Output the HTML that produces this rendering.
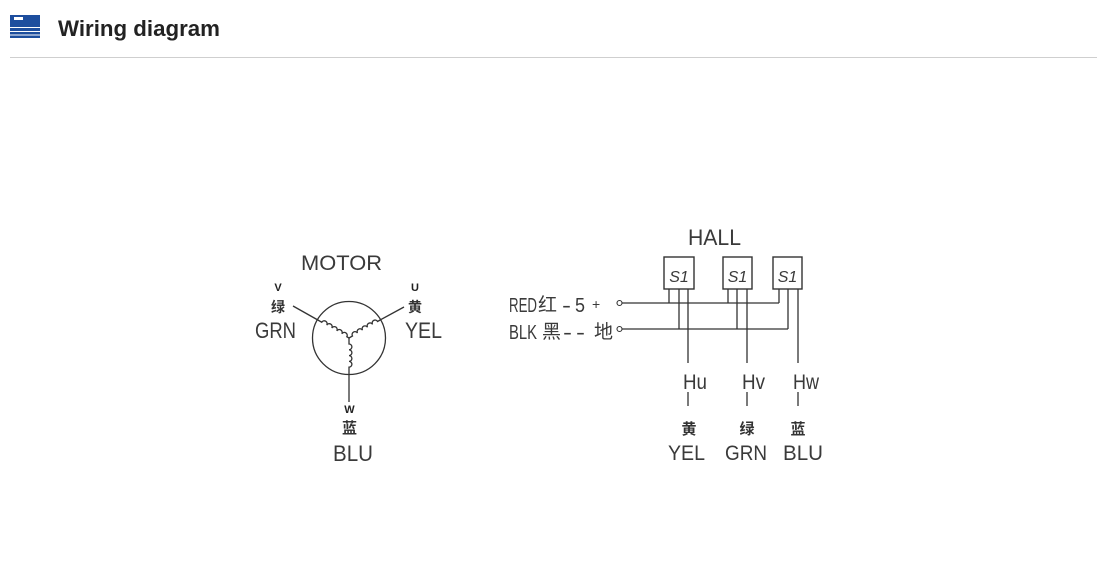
<!DOCTYPE html>
<html>
<head>
<meta charset="utf-8">
<style>
  html,body{margin:0;padding:0;background:#fff;}
  body{width:1107px;height:570px;overflow:hidden;}
  svg{display:block;}
  .t{font-family:"Liberation Sans","Noto Sans CJK SC",sans-serif;fill:#3a3a3a;}
  .c{font-family:"Noto Sans CJK SC","WenQuanYi Zen Hei",sans-serif;fill:#333;font-weight:bold;}
  .cn{font-family:"Noto Sans CJK SC","WenQuanYi Zen Hei",sans-serif;fill:#3a3a3a;font-weight:normal;}
  .b{font-family:"Liberation Sans",sans-serif;font-weight:bold;fill:#222;}
  .ln{stroke:#333;stroke-width:1.3;fill:none;}
</style>
</head>
<body>
<svg width="1107" height="570" viewBox="0 0 1107 570" xmlns="http://www.w3.org/2000/svg">
  <!-- Header icon -->
  <rect x="10" y="15" width="30" height="12" fill="#1d4e9e"/>
  <rect x="14" y="17" width="9" height="3" fill="#fff"/>
  <rect x="10" y="28" width="30" height="3" fill="#1d4e9e"/>
  <rect x="10" y="32" width="30" height="2.5" fill="#1d4e9e"/>
  <rect x="10" y="35.5" width="30" height="2.5" fill="#1d4e9e"/>
  <text x="58" y="36" font-family="Liberation Sans, Arial, sans-serif" font-weight="bold" font-size="22" fill="#222" textLength="162" lengthAdjust="spacingAndGlyphs">Wiring diagram</text>
  <rect x="10" y="57" width="1087" height="1" fill="#cfcfcf"/>

  <!-- MOTOR -->
  <text class="t" x="301" y="270" font-size="21" textLength="81" lengthAdjust="spacingAndGlyphs">MOTOR</text>
  <circle class="ln" cx="349" cy="338" r="36.5"/>
  <!-- external leads -->
  <line class="ln" x1="317.4" y1="319.75" x2="293" y2="306"/>
  <line class="ln" x1="380.6" y1="319.75" x2="404" y2="307"/>
  <line class="ln" x1="349" y1="374.5" x2="349" y2="402"/>
  <!-- coils -->
  <g transform="translate(317.4,319.75) rotate(30)">
    <path class="ln" d="M0,0 L5,0 a2.9,2.9 0 0 1 5.8,0 a2.9,2.9 0 0 1 5.8,0 a2.9,2.9 0 0 1 5.8,0 a2.9,2.9 0 0 1 5.8,0 a2.9,2.9 0 0 1 5.8,0 L36.5,0"/>
  </g>
  <g transform="translate(349,338) rotate(-30)">
    <path class="ln" d="M0,0 L4,0 a2.9,2.9 0 0 1 5.8,0 a2.9,2.9 0 0 1 5.8,0 a2.9,2.9 0 0 1 5.8,0 a2.9,2.9 0 0 1 5.8,0 a2.9,2.9 0 0 1 5.8,0 L36.5,0"/>
  </g>
  <g transform="translate(349,338) rotate(90)">
    <path class="ln" d="M0,0 L6,0 a2.9,2.9 0 0 1 5.8,0 a2.9,2.9 0 0 1 5.8,0 a2.9,2.9 0 0 1 5.8,0 a2.9,2.9 0 0 1 5.8,0 L36.5,0"/>
  </g>
  <!-- motor labels -->
  <text class="b" x="278" y="291" font-size="11" text-anchor="middle">V</text>
  <text class="c" x="278" y="312" font-size="14" text-anchor="middle">绿</text>
  <text class="t" x="255" y="338" font-size="22" textLength="41" lengthAdjust="spacingAndGlyphs">GRN</text>
  <text class="b" x="415" y="291" font-size="11" text-anchor="middle">U</text>
  <text class="c" x="415" y="312" font-size="14" text-anchor="middle">黄</text>
  <text class="t" x="405" y="338" font-size="22" textLength="37" lengthAdjust="spacingAndGlyphs">YEL</text>
  <text class="b" x="349.5" y="413" font-size="11" text-anchor="middle">W</text>
  <text class="c" x="349.5" y="433" font-size="15" text-anchor="middle">蓝</text>
  <text class="t" x="333" y="461" font-size="22" textLength="40" lengthAdjust="spacingAndGlyphs">BLU</text>

  <!-- HALL -->
  <text class="t" x="688" y="245" font-size="22" textLength="53" lengthAdjust="spacingAndGlyphs">HALL</text>
  <!-- boxes -->
  <rect x="664" y="257" width="30" height="32" fill="#fff" stroke="#333" stroke-width="1.4"/>
  <rect x="723" y="257" width="29" height="32" fill="#fff" stroke="#333" stroke-width="1.4"/>
  <rect x="773" y="257" width="29" height="32" fill="#fff" stroke="#333" stroke-width="1.4"/>
  <text class="t" x="679" y="282" font-size="16" font-style="italic" text-anchor="middle">S1</text>
  <text class="t" x="737.5" y="282" font-size="16" font-style="italic" text-anchor="middle">S1</text>
  <text class="t" x="787.5" y="282" font-size="16" font-style="italic" text-anchor="middle">S1</text>
  <!-- pins -->
  <line class="ln" x1="669" y1="289" x2="669" y2="303"/>
  <line class="ln" x1="679" y1="289" x2="679" y2="329"/>
  <line class="ln" x1="688" y1="289" x2="688" y2="363"/>
  <line class="ln" x1="728" y1="289" x2="728" y2="303"/>
  <line class="ln" x1="737" y1="289" x2="737" y2="329"/>
  <line class="ln" x1="747" y1="289" x2="747" y2="363"/>
  <line class="ln" x1="779" y1="289" x2="779" y2="303"/>
  <line class="ln" x1="788" y1="289" x2="788" y2="329"/>
  <line class="ln" x1="798" y1="289" x2="798" y2="363"/>
  <!-- buses -->
  <line class="ln" x1="622" y1="303" x2="779" y2="303"/>
  <line class="ln" x1="622" y1="329" x2="788" y2="329"/>
  <circle cx="619.5" cy="303" r="2.5" fill="#fff" stroke="#333" stroke-width="1.1"/>
  <circle cx="619.5" cy="329" r="2.5" fill="#fff" stroke="#333" stroke-width="1.1"/>
  <!-- supply labels -->
  <text class="t" x="509" y="312" font-size="20" textLength="28" lengthAdjust="spacingAndGlyphs">RED</text>
  <text class="cn" x="538" y="311" font-size="19">红</text>
  <text class="t" x="562" y="312" font-size="20" textLength="9" lengthAdjust="spacingAndGlyphs">-</text>
  <text class="t" x="575" y="312" font-size="20" textLength="10" lengthAdjust="spacingAndGlyphs">5</text>
  <text class="t" x="592" y="309" font-size="14">+</text>
  <text class="t" x="509" y="339" font-size="20" textLength="28" lengthAdjust="spacingAndGlyphs">BLK</text>
  <text class="cn" x="542" y="338" font-size="19">黑</text>
  <text class="t" x="563" y="339" font-size="20" textLength="9" lengthAdjust="spacingAndGlyphs">-</text>
  <text class="t" x="576" y="339" font-size="20" textLength="9" lengthAdjust="spacingAndGlyphs">-</text>
  <text class="cn" x="594" y="338" font-size="19">地</text>

  <!-- Hall outputs -->
  <text class="t" x="683" y="389" font-size="21" textLength="24" lengthAdjust="spacingAndGlyphs">Hu</text>
  <text class="t" x="742" y="389" font-size="21" textLength="23" lengthAdjust="spacingAndGlyphs">Hv</text>
  <text class="t" x="793" y="389" font-size="21" textLength="26" lengthAdjust="spacingAndGlyphs">Hw</text>
  <line class="ln" x1="688" y1="392" x2="688" y2="406"/>
  <line class="ln" x1="747" y1="392" x2="747" y2="406"/>
  <line class="ln" x1="798" y1="392" x2="798" y2="406"/>
  <text class="c" x="689" y="434" font-size="15" text-anchor="middle">黄</text>
  <text class="c" x="747" y="434" font-size="15" text-anchor="middle">绿</text>
  <text class="c" x="798" y="434" font-size="15" text-anchor="middle">蓝</text>
  <text class="t" x="668" y="460" font-size="21" textLength="37" lengthAdjust="spacingAndGlyphs">YEL</text>
  <text class="t" x="725" y="460" font-size="21" textLength="42" lengthAdjust="spacingAndGlyphs">GRN</text>
  <text class="t" x="783" y="460" font-size="21" textLength="40" lengthAdjust="spacingAndGlyphs">BLU</text>
</svg>
</body>
</html>
